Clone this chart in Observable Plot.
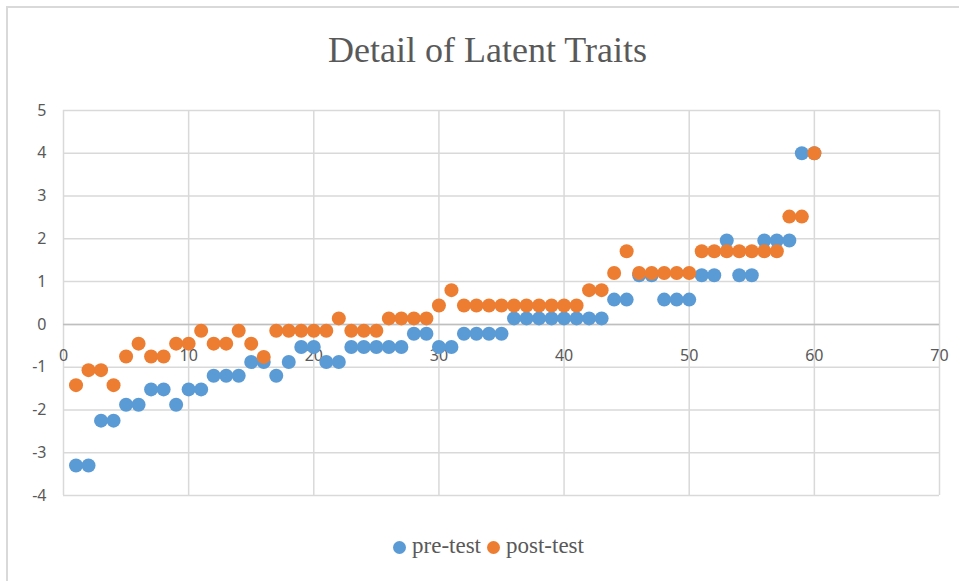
<!DOCTYPE html>
<html>
<head>
<meta charset="utf-8">
<script src="https://cdn.jsdelivr.net/npm/d3@7"></script>
<script src="https://cdn.jsdelivr.net/npm/@observablehq/plot@0.6"></script>
<style>
  html, body { margin: 0; padding: 0; background: #fff; }
  #wrap { position: relative; width: 959px; height: 581px; overflow: hidden; background: #fff; }
  #frame { position: absolute; left: 6px; top: 6px; width: 1000px; height: 1000px; border: 2px solid #d9d9d9; box-sizing: border-box; }
  #title { position: absolute; left: 0; width: 975px; top: 32px; text-align: center; font-family: "Liberation Serif", serif; font-size: 36px; line-height: 36px; color: #595959; }
  #chart { position: absolute; left: 0; top: 90px; }
  #legend { position: absolute; left: 0; width: 977px; top: 535px; text-align: center; font-family: "Liberation Serif", serif; font-size: 23px; line-height: 22px; color: #595959; }
  .sw { display: inline-block; width: 13px; height: 13px; border-radius: 50%; margin-right: 6px; vertical-align: -1px; }
  .item { margin: 0 3px; }
</style>
</head>
<body>
<div id="wrap">
  <div id="frame"></div>
  <div id="title">Detail of Latent Traits</div>
  <div id="chart"></div>
  <div id="legend"></div>
</div>
<script>
const title = "Detail of Latent Traits";
const seriesNames = ["pre-test", "post-test"];
const seriesColors = ["#5B9BD5", "#ED7D31"];
const xTicks = [0, 10, 20, 30, 40, 50, 60, 70];
const yTicks = [-4, -3, -2, -1, 0, 1, 2, 3, 4, 5];

const preTest = [
  -3.3, -3.3, -2.25, -2.25, -1.88, -1.88, -1.52, -1.52, -1.88, -1.52,
  -1.52, -1.2, -1.2, -1.2, -0.88, -0.88, -1.2, -0.88, -0.53, -0.53,
  -0.88, -0.88, -0.53, -0.53, -0.53, -0.53, -0.53, -0.22, -0.22, -0.53,
  -0.53, -0.22, -0.22, -0.22, -0.22, 0.14, 0.14, 0.14, 0.14, 0.14,
  0.14, 0.14, 0.14, 0.58, 0.58, 1.15, 1.15, 0.58, 0.58, 0.58,
  1.15, 1.15, 1.96, 1.15, 1.15, 1.96, 1.96, 1.96, 4.0, 4.0
];
const postTest = [
  -1.42, -1.07, -1.07, -1.42, -0.75, -0.45, -0.75, -0.75, -0.45, -0.45,
  -0.15, -0.45, -0.45, -0.15, -0.45, -0.76, -0.15, -0.15, -0.15, -0.15,
  -0.15, 0.14, -0.15, -0.15, -0.15, 0.14, 0.14, 0.14, 0.14, 0.44,
  0.8, 0.44, 0.44, 0.44, 0.44, 0.44, 0.44, 0.44, 0.44, 0.44,
  0.44, 0.8, 0.8, 1.2, 1.71, 1.2, 1.2, 1.2, 1.2, 1.2,
  1.71, 1.71, 1.71, 1.71, 1.71, 1.71, 1.71, 2.52, 2.52, 4.0
];

const preRows = preTest.map((v, i) => ({id: i + 1, value: v}));
const postRows = postTest.map((v, i) => ({id: i + 1, value: v}));

const grid = "#d9d9d9";
const textColor = "#595959";

const plot = Plot.plot({
  width: 959,
  height: 440,
  marginLeft: 63,
  marginRight: 20,
  marginTop: 20,
  marginBottom: 35,
  style: {fontFamily: "'Noto Sans', sans-serif", fontSize: "16px", color: textColor, background: "transparent"},
  x: {domain: [0, 70], axis: null},
  y: {domain: [-4, 5], axis: null},
  marks: [
    Plot.gridX(xTicks, {stroke: grid, strokeOpacity: 1, strokeWidth: 1.5}),
    Plot.gridY(yTicks, {stroke: grid, strokeOpacity: 1, strokeWidth: 1.5}),
    Plot.ruleY([0], {stroke: "#bfbfbf", strokeWidth: 1.5}),
    Plot.axisY(yTicks, {tickSize: 0, tickPadding: 17, fill: textColor, fontSize: 16, label: null, tickFormat: d => String(d)}),
    Plot.text(xTicks, {x: d => d, y: 0, dy: 31, text: d => String(d), fill: textColor, fontSize: 16}),
    Plot.dot(preRows, {x: "id", y: "value", r: 7, fill: seriesColors[0], stroke: "none"}),
    Plot.dot(postRows, {x: "id", y: "value", r: 7, fill: seriesColors[1], stroke: "none"})
  ]
});
document.getElementById("chart").appendChild(plot);

const legend = document.getElementById("legend");
seriesNames.forEach((name, i) => {
  const item = document.createElement("span");
  item.className = "item";
  const sw = document.createElement("span");
  sw.className = "sw";
  sw.style.background = seriesColors[i];
  item.appendChild(sw);
  item.appendChild(document.createTextNode(name));
  legend.appendChild(item);
});
</script>
</body>
</html>
